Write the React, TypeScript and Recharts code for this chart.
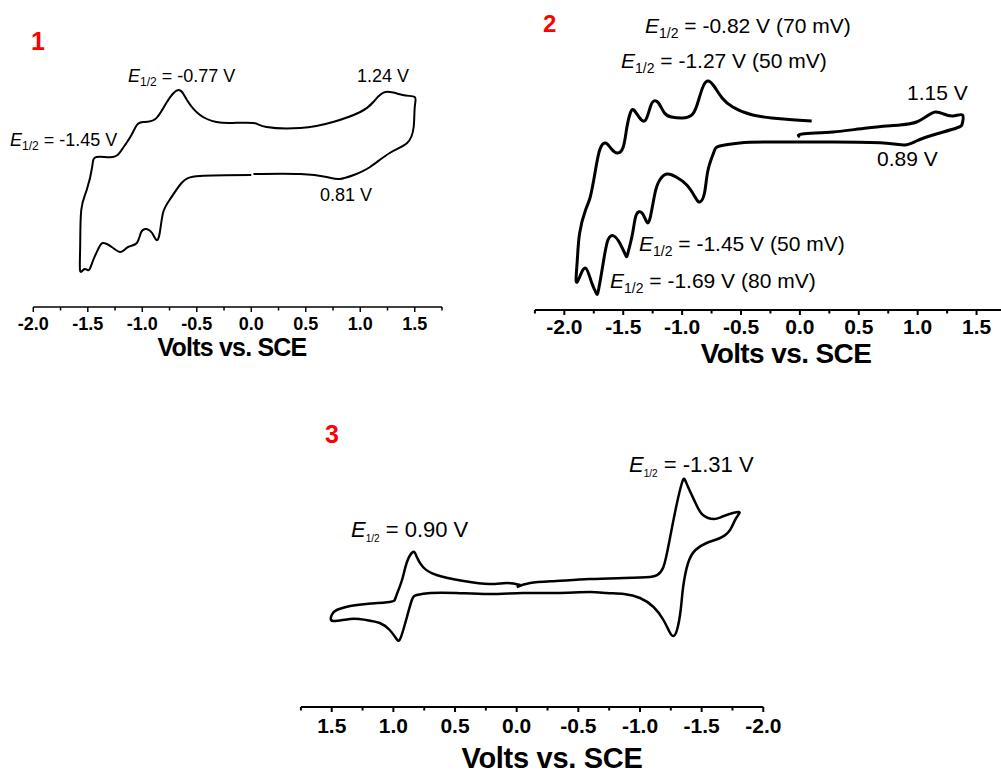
import React from 'react';
import { LineChart, Line, XAxis, YAxis } from 'recharts';

const FONT = '"Liberation Sans", Arial, Helvetica, sans-serif';

// ---- panel 1: potential (V vs SCE) and current (arb. units)
const p1Volts = [0.00, -0.47, -0.64, -0.75, -0.81, -0.84, -0.87, -0.91, -0.96, -1.01, -1.05, -1.13, -1.20, -1.28, -1.36, -1.40, -1.45, -1.49, -1.53, -1.57, -1.57, -1.56, -1.51, -1.46, -1.42, -1.27, -1.19, -1.11, -1.05, -0.99, -0.88, -0.78, -0.67, -0.59, -0.47, -0.32, -0.17, 0.02, 0.14, 0.45, 0.75, 1.00, 1.12, 1.23, 1.39, 1.50, 1.50, 1.49, 1.43, 1.27, 1.09, 0.94, 0.81, 0.69, 0.45, 0.02];
const p1Current = [13.2, 13.1, 12.4, 10.7, 9.4, 7.4, 6.7, 7.4, 7.8, 7.5, 6.4, 6.0, 5.5, 6.0, 6.4, 5.9, 4.7, 3.7, 3.8, 3.6, 6.0, 9.7, 11.7, 14.0, 15.0, 15.0, 15.7, 17.0, 18.2, 18.5, 18.8, 20.4, 21.7, 20.7, 19.2, 18.5, 18.4, 18.4, 18.0, 17.9, 18.5, 19.5, 20.5, 21.5, 21.2, 21.0, 20.0, 18.0, 16.4, 15.4, 14.0, 13.2, 12.8, 13.0, 13.3, 13.3];

// ---- panel 2
const p2Volts = [0.00, 0.02, 0.28, 0.57, 0.85, 0.99, 1.08, 1.15, 1.22, 1.30, 1.38, 1.38, 1.33, 1.13, 0.99, 0.89, 0.71, 0.28, -0.28, -0.51, -0.68, -0.73, -0.78, -0.81, -0.85, -0.89, -0.96, -1.05, -1.13, -1.19, -1.23, -1.27, -1.30, -1.34, -1.39, -1.42, -1.46, -1.48, -1.53, -1.58, -1.63, -1.67, -1.71, -1.73, -1.77, -1.82, -1.87, -1.90, -1.89, -1.87, -1.82, -1.78, -1.74, -1.70, -1.65, -1.60, -1.55, -1.50, -1.47, -1.44, -1.41, -1.36, -1.31, -1.27, -1.24, -1.20, -1.15, -1.09, -1.00, -0.91, -0.86, -0.82, -0.78, -0.73, -0.66, -0.57, -0.40, -0.14, 0.10];
const p2Current = [17.3, 17.6, 17.8, 18.2, 18.5, 18.8, 19.4, 19.8, 19.6, 19.4, 19.5, 18.7, 18.2, 17.5, 16.9, 16.5, 16.7, 16.8, 16.8, 16.7, 16.4, 15.8, 14.0, 11.7, 10.8, 11.3, 12.5, 13.3, 13.6, 13.0, 11.7, 9.3, 8.8, 9.7, 9.5, 7.7, 5.7, 5.5, 6.7, 7.4, 7.0, 4.7, 2.0, 1.7, 2.8, 4.2, 3.3, 2.9, 5.0, 7.7, 10.0, 11.3, 13.7, 16.0, 16.7, 16.1, 15.7, 16.3, 18.2, 19.7, 20.0, 19.2, 19.0, 20.3, 20.9, 20.7, 19.7, 19.3, 19.2, 19.6, 21.0, 22.4, 22.9, 22.4, 21.2, 20.3, 19.5, 19.1, 18.9];

// ---- panel 3
const p3Volts = [0.00, -0.11, -0.32, -0.59, -0.87, -1.08, -1.14, -1.19, -1.24, -1.30, -1.34, -1.36, -1.39, -1.45, -1.51, -1.60, -1.68, -1.80, -1.78, -1.73, -1.65, -1.54, -1.45, -1.39, -1.35, -1.33, -1.30, -1.27, -1.24, -1.19, -1.11, -1.00, -0.87, -0.73, -0.59, -0.32, -0.05, 0.22, 0.49, 0.70, 0.81, 0.85, 0.89, 0.92, 0.95, 0.98, 1.03, 1.11, 1.22, 1.35, 1.49, 1.50, 1.46, 1.35, 1.22, 1.03, 0.98, 0.93, 0.89, 0.84, 0.81, 0.76, 0.65, 0.43, 0.22, 0.08, -0.03];
const p3Current = [12.0, 12.4, 12.6, 12.8, 12.9, 13.0, 13.2, 14.0, 16.7, 20.4, 22.4, 22.8, 22.0, 20.4, 19.2, 18.8, 19.1, 19.5, 18.9, 17.7, 16.9, 16.4, 15.7, 14.4, 12.0, 9.7, 7.7, 7.1, 7.5, 8.7, 10.0, 10.9, 11.3, 11.4, 11.5, 11.4, 11.4, 11.3, 11.4, 11.4, 11.2, 10.7, 9.0, 7.7, 6.7, 6.9, 7.7, 8.4, 8.7, 8.8, 8.6, 9.2, 9.7, 10.1, 10.3, 10.5, 11.0, 12.7, 14.5, 15.5, 15.0, 14.0, 13.2, 12.6, 12.3, 12.4, 12.2];

// axis ticks (majors every 0.5 get a label)
const ticksA = [-2, -1.75, -1.5, -1.25, -1, -0.75, -0.5, -0.25, 0, 0.25, 0.5, 0.75, 1, 1.25, 1.5, 1.75];
const ticksB = [-2.25, -2, -1.75, -1.5, -1.25, -1, -0.75, -0.5, -0.25, 0, 0.25, 0.5, 0.75, 1, 1.25, 1.5, 1.75];

const zip = (v: number[], i: number[]) => v.map((x, k) => ({ v: x, i: i[k] }));

const tickRenderer = (fontSize: number, labelDy: number, w: number) => (props: any) => {
  const { x, y, payload } = props;
  const val = payload.value as number;
  const major = Math.abs(val * 2 - Math.round(val * 2)) < 1e-6;
  return (
    <g>
      <line x1={x} x2={x} y1={y} y2={y + (major ? 5 : 3.5)} stroke="#000" strokeWidth={w} />
      {major && (
        <text x={x} y={y + labelDy} textAnchor="middle" fontSize={fontSize} fontWeight="bold" fontFamily={FONT} fill="#000">
          {val.toFixed(1)}
        </text>
      )}
    </g>
  );
};

type PanelProps = {
  data: { v: number; i: number }[];
  width: number;
  left: number;
  right: number;
  top: number;
  ticks: number[];
  domain: [number, number];
  reversed?: boolean;
  stroke: number;
  axisW: number;
  fontSize: number;
  labelDy: number;
};

function Panel({ data, width, left, right, top, ticks, domain, reversed, stroke, axisW, fontSize, labelDy }: PanelProps) {
  const plotH = 250;
  return (
    <div style={{ position: 'absolute', left: 0, top: 0 }}>
      <LineChart width={width} height={top + plotH + 60} data={data} margin={{ top, left, right: width - right, bottom: 0 }}>
        <XAxis
          dataKey="v"
          type="number"
          domain={domain}
          allowDataOverflow
          reversed={reversed}
          ticks={ticks}
          interval={0}
          tickLine={false}
          tickSize={0}
          tickMargin={0}
          height={60}
          axisLine={{ stroke: '#000', strokeWidth: axisW }}
          tick={tickRenderer(fontSize, labelDy, axisW)}
        />
        <YAxis type="number" domain={[0, 25]} hide allowDataOverflow />
        <Line type="natural" dataKey="i" stroke="#000" strokeWidth={stroke} dot={false} isAnimationActive={false} strokeLinejoin="round" />
      </LineChart>
    </div>
  );
}

function ELabel({ x, y, size, sub, subDy, rest }: { x: number; y: number; size: number; sub: number; subDy: number; rest: string }) {
  return (
    <text x={x} y={y} fontSize={size} fontFamily={FONT} fill="#000" style={{ whiteSpace: 'pre' }}>
      <tspan fontStyle="italic">E</tspan>
      <tspan fontSize={sub} dy={subDy}>1/2</tspan>
      <tspan dy={-subDy}>{rest}</tspan>
    </text>
  );
}

export default function App() {
  return (
    <div style={{ position: 'absolute', left: 0, top: 0, width: 1001, height: 774, overflow: 'hidden', background: '#fff' }}>
      <Panel data={zip(p1Volts, p1Current)} width={1001} left={33.3} right={442} top={57} ticks={ticksA} domain={[-2, 1.75]}
        stroke={2} axisW={1.5} fontSize={18} labelDy={23} />
      <Panel data={zip(p2Volts, p2Current)} width={1010} left={534.9} right={1006} top={60} ticks={ticksB} domain={[-2.25, 1.75]}
        stroke={3} axisW={2} fontSize={21} labelDy={24} />
      <Panel data={zip(p3Volts, p3Current)} width={1001} left={300.9} right={763.3} top={457} ticks={ticksA} domain={[-2, 1.75]}
        reversed stroke={2.5} axisW={2} fontSize={21} labelDy={26} />

      <svg width={1001} height={774} style={{ position: 'absolute', left: 0, top: 0, pointerEvents: 'none' }}>
        {/* panel numbers */}
        <text x={31} y={50} fontSize={25} fontWeight="bold" fill="#ff0000" fontFamily={FONT}>1</text>
        <text x={543} y={32} fontSize={24} fontWeight="bold" fill="#ff0000" fontFamily={FONT}>2</text>
        <text x={325} y={443} fontSize={25} fontWeight="bold" fill="#ff0000" fontFamily={FONT}>3</text>

        {/* panel 1 */}
        <ELabel x={128} y={82} size={18} sub={12} subDy={4} rest=" = -0.77 V" />
        <ELabel x={10} y={146} size={18} sub={12} subDy={4} rest=" = -1.45 V" />
        <text x={357} y={82} fontSize={18} fontFamily={FONT}>1.24 V</text>
        <text x={320} y={201} fontSize={18} fontFamily={FONT}>0.81 V</text>
        <text x={232} y={356} textAnchor="middle" fontSize={25} fontWeight="bold" letterSpacing={-0.8} fontFamily={FONT}>Volts vs. SCE</text>

        {/* panel 2 */}
        <ELabel x={645} y={33} size={21} sub={14} subDy={5} rest=" = -0.82 V (70 mV)" />
        <ELabel x={621} y={68} size={21} sub={14} subDy={5} rest=" = -1.27 V (50 mV)" />
        <ELabel x={639} y={251} size={21} sub={14} subDy={5} rest=" = -1.45 V (50 mV)" />
        <ELabel x={610} y={288} size={21} sub={14} subDy={5} rest=" = -1.69 V (80 mV)" />
        <text x={907} y={100} fontSize={21} fontFamily={FONT}>1.15 V</text>
        <text x={877} y={166} fontSize={21} fontFamily={FONT}>0.89 V</text>
        <text x={786} y={363} textAnchor="middle" fontSize={28} fontWeight="bold" letterSpacing={-0.6} fontFamily={FONT}>Volts vs. SCE</text>

        {/* panel 3 */}
        <ELabel x={629} y={472} size={22} sub={10} subDy={5} rest=" = -1.31 V" />
        <ELabel x={351} y={537} size={22} sub={10} subDy={5} rest=" = 0.90 V" />
        <text x={552} y={768} textAnchor="middle" fontSize={29} fontWeight="bold" letterSpacing={-0.3} fontFamily={FONT}>Volts vs. SCE</text>
      </svg>
    </div>
  );
}
